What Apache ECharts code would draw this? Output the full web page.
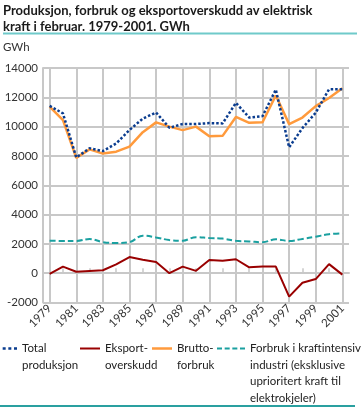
<!DOCTYPE html>
<html><head><meta charset="utf-8">
<script src="https://cdn.jsdelivr.net/npm/echarts@6/dist/echarts.min.js"></script>
<style>html,body{margin:0;padding:0;background:#fff}#c{width:361px;height:408px}</style>
</head><body><div id="c"></div>
<script>
const years = ['1979','1980','1981','1982','1983','1984','1985','1986','1987','1988','1989','1990','1991','1992','1993','1994','1995','1996','1997','1998','1999','2000','2001'];
const totalProduksjon = [11420,10900,7900,8520,8330,8850,9770,10550,10960,9920,10180,10180,10240,10220,11620,10620,10720,12520,8590,9900,10950,12550,12550];
const eksportoverskudd = [-50,450,100,150,200,600,1100,920,760,0,450,160,900,850,950,400,450,450,-1600,-650,-400,620,-100];
const bruttoforbruk = [11360,10450,7870,8450,8160,8290,8630,9620,10290,10000,9760,10000,9340,9370,10660,10260,10300,12120,10170,10620,11400,11950,12620];
const industri = [2220,2200,2200,2330,2120,2060,2120,2560,2440,2260,2220,2460,2400,2360,2210,2170,2110,2310,2200,2340,2490,2660,2720];
const names = ['Total\nproduksjon','Eksport-\noverskudd','Brutto-\nforbruk','Forbruk i kraftintensiv\nindustri (eksklusive\nuprioritert kraft til\nelektrokjeler)'];
const yTicks = {min:-2000, max:14000, interval:2000};

const FONT = 'Lato';
const FS = 11.5;
const LH = 16.5;
const grey = '#c8c8c8';
const colors = ['#0a3c8f','#990000','#ff9a3c','#1aa0a0'];
// legend swatches drawn as small filled rectangles (dash patterns)
const dotIcon = 'path://M0,0h3v2.5h-3z M5.67,0h3v2.5h-3z M11.33,0h3v2.5h-3z M17,0h3v2.5h-3z';
const dashIcon = 'path://M0,0h5v2h-5z M7.67,0h5v2h-5z M15.33,0h5v2h-5z M23,0h5v2h-5z';
const ICON_Y = 351;
function legendAt(name, left, iconW, iconH, icon){
  const n = name.split('\n').length;
  // leading blank lines centre the first real line on the swatch
  const lastBottom = ICON_Y + (n-1)*LH + FS/2;
  return {
    data:[name], icon:icon, left:left, bottom: 408 - lastBottom, padding:0, itemWidth:iconW, itemHeight:iconH,
    formatter: function(nm){ return '\n'.repeat(n-1) + nm; },
    textStyle:{fontFamily:FONT, fontSize:FS, color:'#222', lineHeight:LH}
  };
}
const chart = echarts.init(document.getElementById('c'), null, {renderer:'canvas'});
chart.setOption({
  animation:false,
  textStyle:{fontFamily:FONT},
  title:[
    {text:'Produksjon, forbruk og eksportoverskudd av elektrisk\nkraft i februar. 1979-2001. GWh', left:3, top:3,
     textStyle:{fontFamily:FONT, fontWeight:'bold', fontSize:13, lineHeight:16, color:'#1a1a1a'}, padding:0},
    {text:'GWh', left:3, top:41, padding:0, textStyle:{fontFamily:FONT, fontWeight:'normal', fontSize:11.5, color:'#333'}}
  ],
  graphic:[
    {type:'line', shape:{x1:3,y1:33.5,x2:357,y2:33.5}, style:{stroke:'#6fcaca', lineWidth:2}},
    {type:'line', shape:{x1:0,y1:406,x2:355,y2:406}, style:{stroke:'#2aa0a0', lineWidth:2}}
  ],
  legend:[
    legendAt(names[0], -3, 20, 2.5, dotIcon),
    legendAt(names[1], 80, 20, 2, 'rect'),
    legendAt(names[2], 152, 20, 2.5, 'rect'),
    legendAt(names[3], 217, 28, 2, dashIcon)
  ],
  grid:{left:43, right:12, top:68, bottom:105.5},
  xAxis:{
    type:'category', data:years, boundaryGap:true,
    axisLine:{show:true, lineStyle:{color:grey, width:2}},
    axisTick:{show:true, inside:true, length:5, alignWithLabel:true, interval:0, lineStyle:{color:grey, width:1.5}},
    axisLabel:{interval:1, rotate:45, margin:4, fontFamily:FONT, fontSize:11.5, color:'#333'},
    splitLine:{show:true, interval:1, alignWithLabel:true, lineStyle:{color:grey, width:2}}
  },
  yAxis:{
    type:'value', min:yTicks.min, max:yTicks.max, interval:yTicks.interval,
    axisLine:{show:true, lineStyle:{color:grey, width:2}},
    axisTick:{show:false},
    axisLabel:{margin:5, fontFamily:FONT, fontSize:11.5, color:'#333', formatter:function(v){return String(v);}},
    splitLine:{show:true, lineStyle:{color:grey, width:2}}
  },
  series:[
    {name:names[0], type:'line', data:totalProduksjon, symbol:'none', z:4, color:colors[0],
     lineStyle:{color:colors[0], width:2.5, type:[2.5,2]}, itemStyle:{color:colors[0]}},
    {name:names[1], type:'line', data:eksportoverskudd, symbol:'none', z:3, color:colors[1],
     lineStyle:{color:colors[1], width:2}, itemStyle:{color:colors[1]}},
    {name:names[2], type:'line', data:bruttoforbruk, symbol:'none', z:3, color:colors[2],
     lineStyle:{color:colors[2], width:2.5}, itemStyle:{color:colors[2]}},
    {name:names[3], type:'line', data:industri, symbol:'none', smooth:0.4, z:3, color:colors[3],
     lineStyle:{color:colors[3], width:2, type:[6,3]}, itemStyle:{color:colors[3]}}
  ]
});
</script></body></html>
